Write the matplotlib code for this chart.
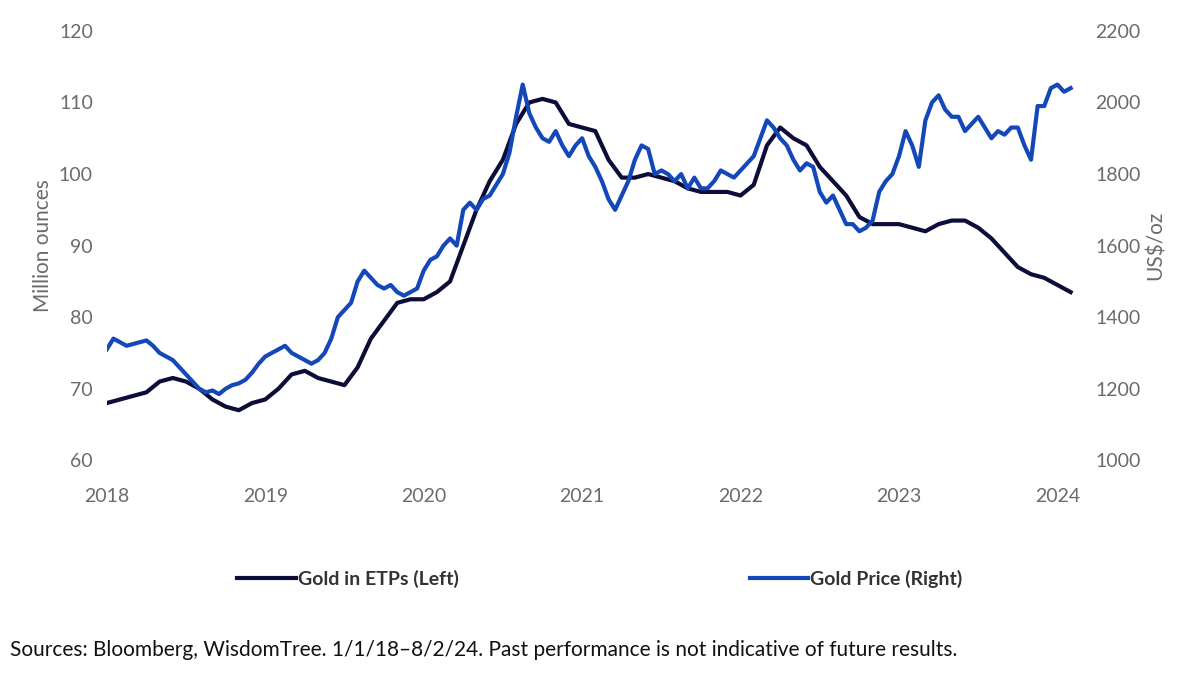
import numpy as np
import matplotlib.pyplot as plt

plt.rcParams['font.family'] = ['Lato', 'DejaVu Sans']

# Gold held in ETPs, monthly, million ounces (Jan 2018 - Feb 2024)
etp = [68, 68.5, 69, 69.5, 71, 71.5, 71, 70, 68.5, 67.5, 67, 68,
       68.5, 70, 72, 72.5, 71.5, 71, 70.5, 73, 77, 79.5, 82, 82.5,
       82.5, 83.5, 85, 90, 95, 99, 102, 107, 110, 110.5, 110, 107,
       106.5, 106, 102, 99.5, 99.5, 100, 99.5, 99, 98, 97.5, 97.5, 97.5,
       97, 98.5, 104, 106.5, 105, 104, 101, 99, 97, 94, 93, 93,
       93, 92.5, 92, 93, 93.5, 93.5, 92.5, 91, 89, 87, 86, 85.5,
       84.5, 83.5]
etp_x = 2018 + np.arange(len(etp)) / 12

# Gold price, half-monthly, US$/oz
gold = [1310, 1340, 1330, 1320, 1325, 1330, 1335, 1320, 1300, 1290, 1280, 1260,
        1240, 1220, 1200, 1190, 1195, 1185, 1200, 1210, 1215, 1225, 1245, 1270,
        1290, 1300, 1310, 1320, 1300, 1290, 1280, 1270, 1280, 1300, 1340, 1400,
        1420, 1440, 1500, 1530, 1510, 1490, 1480, 1490, 1470, 1460, 1470, 1480,
        1530, 1560, 1570, 1600, 1620, 1600, 1700, 1720, 1700, 1730, 1740, 1770,
        1800, 1860, 1960, 2050, 1970, 1930, 1900, 1890, 1920, 1880, 1850, 1880,
        1900, 1850, 1820, 1780, 1730, 1700, 1740, 1780, 1840, 1880, 1870, 1800,
        1810, 1800, 1780, 1800, 1760, 1790, 1760, 1760, 1780, 1810, 1800, 1790,
        1810, 1830, 1850, 1900, 1950, 1930, 1900, 1880, 1840, 1810, 1830, 1820,
        1750, 1720, 1740, 1700, 1660, 1660, 1640, 1650, 1670, 1750, 1780, 1800,
        1850, 1920, 1880, 1820, 1950, 2000, 2020, 1980, 1960, 1960, 1920, 1940,
        1960, 1930, 1900, 1920, 1910, 1930, 1930, 1880, 1840, 1990, 1990, 2040,
        2050, 2030, 2040]
gold_x = 2018 + np.arange(len(gold)) / 24

navy = '#0d0d3a'
blue = '#1448b8'
grey = '#6b6b6b'

fig = plt.figure(figsize=(12, 6.87), dpi=100)
ax = fig.add_axes([0.089, 0.33, 0.812, 0.625])
ax2 = ax.twinx()

l1, = ax.plot(etp_x, etp, color=navy, lw=3, label='Gold in ETPs (Left)')
l2, = ax2.plot(gold_x, gold, color=blue, lw=3, label='Gold Price (Right)')

ax.set_xlim(2018, 2024.15)
ax.set_ylim(60, 120)
ax2.set_ylim(1000, 2200)
ax.set_xticks(range(2018, 2025))
ax.set_yticks(range(60, 121, 10))
ax2.set_yticks(range(1000, 2201, 200))
ax.set_ylabel('Million ounces', color=grey, fontsize=15)
ax2.set_ylabel('US$/oz', color=grey, fontsize=15)

for a in (ax, ax2):
    for s in a.spines.values():
        s.set_visible(False)
    a.tick_params(length=0, colors=grey, labelsize=14, pad=10)
ax.tick_params(axis='x', pad=20)

leg = fig.legend(handles=[l1, l2], loc='center', bbox_to_anchor=(0.5, 0.158),
                 ncol=2, frameon=False, fontsize=14, columnspacing=15,
                 handlelength=3, handletextpad=0.1)
for t in leg.get_texts():
    t.set_fontweight('bold')
    t.set_color('#333333')

fig.text(0.008, 0.045, 'Sources: Bloomberg, WisdomTree. 1/1/18\u20138/2/24. Past performance is not indicative of future results.',
         fontsize=15, color='#111111')

fig.savefig('out.png', dpi=100)
